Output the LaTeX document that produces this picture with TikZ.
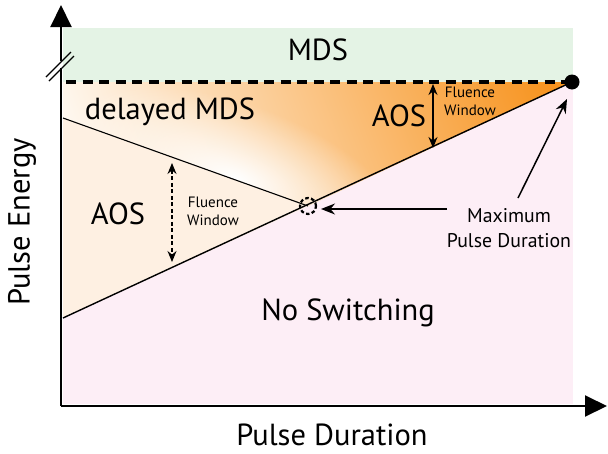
\documentclass[tikz,border=0pt]{standalone}
\usepackage{fontspec}
\setmainfont{PT Sans}
\usetikzlibrary{arrows.meta,fadings}
\definecolor{mdsgreen}{HTML}{E4F3E5}
\definecolor{nspink}{HTML}{FDEEF6}
\definecolor{aospeach}{HTML}{FEF0E2}
\definecolor{aosorange}{HTML}{F7931E}
\tikzfading[name=glowfade, inner color=transparent!0, middle color=transparent!30, outer color=transparent!100]
\tikzset{
  bigtxt/.style={font=\fontsize{30.5}{32}\selectfont, inner sep=0pt},
  midtxt/.style={font=\fontsize{19.8}{24.5}\selectfont, inner sep=0pt, align=center},
  smalltxt/.style={font=\fontsize{15}{18}\selectfont, inner sep=0pt, align=center},
  axisline/.style={line width=2pt, -{Triangle[length=22pt,width=21pt]}},
  boundary/.style={line width=1.4pt},
  fwarrow/.style={line width=1.5pt, {Stealth[length=11pt,width=9pt]}-{Stealth[length=11pt,width=9pt]}},
  ptarrow/.style={line width=1.5pt, -{Stealth[length=14pt,width=11pt]}},
}
\begin{document}
\begin{tikzpicture}[x=1pt,y=-1pt]
\useasboundingbox (0,0) rectangle (608,453);
% key points
\coordinate (TL) at (63,82);
\coordinate (DL) at (63,118);
\coordinate (ML) at (63,318);
\coordinate (C) at (308,206);
\coordinate (G) at (235,178);
\coordinate (D) at (572,82);
% backgrounds
\fill[mdsgreen] (63,28) rectangle (573,82);
\fill[nspink] (63,82) rectangle (573,404);
\fill[aospeach] (DL) -- (C) -- (ML) -- cycle;
\begin{scope}
  \clip (TL) -- (D) -- (C) -- (DL) -- cycle;
  \fill[white] (TL) -- (D) -- (C) -- (DL) -- cycle;
  \begin{scope}[transform canvas={rotate around={20.8:(C)}}]
    \shade[left color=white, right color=aosorange] ([xshift=-230pt,yshift=-600pt]C) rectangle ([xshift=273pt,yshift=600pt]C);
    \fill[aosorange] ([xshift=272pt,yshift=-600pt]C) rectangle ([xshift=700pt,yshift=600pt]C);
  \end{scope}
  \begin{scope}[transform canvas={rotate around={-19.8:(G)}}]
    \fill[white, path fading=glowfade] ([xshift=-175pt,yshift=-75pt]G) rectangle ([xshift=175pt,yshift=75pt]G);
  \end{scope}
\end{scope}
% boundaries
\draw[boundary] (ML) -- (D);
\draw[line width=1.1pt] (DL) -- (C);
\draw[line width=4pt, dash pattern=on 10pt off 6.5pt] (66,82) -- (D);
\fill (D) circle (7.5pt);
\draw[line width=2.2pt, dash pattern=on 3.5pt off 2.4pt] (C) circle (8pt);
% axes
\coordinate (O) at (61,406);
\coordinate (YT) at (61,5);
\coordinate (XT) at (607,406);
\draw[axisline] (O) -- (YT);
\draw[axisline] (O) -- (XT);
% axis break
\draw[white, line width=3pt] (61,61) -- (61,68);
\draw[line width=1.2pt] (46,77) -- (71,52);
\draw[line width=1.2pt] (49,81) -- (74,56);
% labels
\node[bigtxt] (mds) at (318,50) {MDS};
\node[bigtxt, anchor=base] (dmds) at (170,119) {delayed MDS};
\node[bigtxt] (aosl) at (118,214) {AOS};
\node[bigtxt] (aosr) at (399,116) {AOS};
\node[bigtxt] (nosw) at (348,313) {No Switching};
\node[bigtxt] (xlab) at (332,435) {Pulse Duration};
\node[bigtxt, rotate=90] (ylab) at (22,222) {Pulse Energy};
\node[smalltxt] (fwl) at (213,211) {Fluence\\Window};
\node[smalltxt] (fwr) at (470,101) {Fluence\\Window};
\node[midtxt] (maxpd) at (509,228) {Maximum\\Pulse Duration};
% fluence window arrows
\coordinate (fl1) at (172,163);
\coordinate (fl2) at (172,262);
\draw[fwarrow, line width=1.3pt, dash pattern=on 4pt off 2.5pt] (fl1) -- (fl2);
\coordinate (fr1) at (433,84);
\coordinate (fr2) at (433,148);
\draw[fwarrow] (fr1) -- (fr2);
% pointer arrows
\coordinate (pa1) at (447,209);
\coordinate (pa2) at (321,209);
\draw[ptarrow] (pa1) -- (pa2);
\coordinate (pb1) at (518,198);
\coordinate (pb2) at (567,99);
\draw[ptarrow] (pb1) -- (pb2);
\end{tikzpicture}
\end{document}
